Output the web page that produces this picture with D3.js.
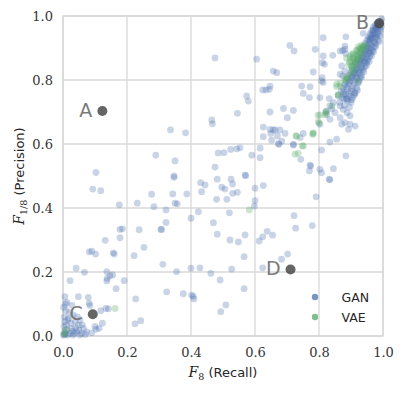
<!DOCTYPE html>
<html>
<head>
<meta charset="utf-8">
<script src="https://cdn.jsdelivr.net/npm/d3@7"></script>
<style>
  html, body { margin: 0; padding: 0; background: #fff; }
  svg { display: block; }
</style>
</head>
<body>
<svg id="chart" width="403" height="393"></svg>
<script>
// ---- data ----
const xTicks = [0.0, 0.2, 0.4, 0.6, 0.8, 1.0];
const yTicks = [0.0, 0.2, 0.4, 0.6, 0.8, 1.0];
const seriesNames = ["GAN", "VAE"];

// GAN points: [recall F8, precision F1/8]
const ganPoints = [
  [0.475,0.869],[0.605,0.865],[0.657,0.828],[0.668,0.823],[0.647,0.781],
  [0.624,0.769],[0.634,0.769],[0.645,0.771],[0.574,0.75],[0.579,0.734],
  [0.545,0.696],[0.647,0.70],[0.465,0.675],[0.467,0.663],[0.336,0.644],
  [0.383,0.635],[0.626,0.653],[0.657,0.644],[0.649,0.633],[0.626,0.623],
  [0.673,0.601],[0.485,0.572],[0.503,0.573],[0.524,0.583],[0.543,0.585],
  [0.553,0.588],[0.59,0.565],[0.616,0.587],[0.616,0.557],[0.35,0.547],
  [0.475,0.528],[0.347,0.50],[0.569,0.503],[0.29,0.565],
  [0.709,0.908],[0.722,0.891],[0.813,0.932],[0.884,0.935],[0.788,0.896],
  [0.813,0.875],[0.843,0.877],[0.866,0.891],[0.881,0.896],[0.782,0.825],
  [0.811,0.854],[0.817,0.849],[0.81,0.807],[0.808,0.797],[0.813,0.792],
  [0.871,0.844],[0.881,0.828],[0.874,0.813],[0.866,0.818],[0.746,0.781],
  [0.772,0.779],[0.751,0.758],[0.77,0.745],[0.803,0.745],[0.832,0.742],
  [0.845,0.729],[0.876,0.755],[0.886,0.74],[0.913,0.758],[0.689,0.711],
  [0.72,0.705],[0.701,0.682],[0.834,0.719],[0.84,0.71],[0.85,0.698],
  [0.866,0.719],[0.876,0.708],[0.888,0.698],[0.866,0.682],[0.897,0.688],
  [0.822,0.703],[0.824,0.693],[0.803,0.662],[0.834,0.677],[0.871,0.662],
  [0.881,0.667],[0.897,0.662],[0.913,0.656],[0.892,0.646],[0.647,0.646],
  [0.663,0.644],[0.678,0.644],[0.694,0.633],[0.67,0.625],[0.684,0.609],
  [0.652,0.612],[0.751,0.633],[0.741,0.62],[0.72,0.599],[0.834,0.606],
  [0.855,0.615],[0.808,0.581],[0.884,0.563],[0.743,0.552],[0.774,0.531],
  [0.77,0.516],[0.803,0.521],[0.808,0.51],[0.845,0.523],[0.675,0.599],
  [0.72,0.597],[0.772,0.534],[0.834,0.488],[0.832,0.49],[0.791,0.435],
  [0.722,0.376],[0.727,0.337],[0.779,0.345],[0.702,0.256],[0.683,0.24],
  [0.874,0.892],[0.881,0.906],[0.883,0.883],[0.938,0.946],[0.97,0.956],
  // dense upper-right band
  [0.99,0.985],[0.985,0.98],[0.98,0.975],[0.975,0.97],[0.99,0.975],
  [0.97,0.965],[0.985,0.965],[0.965,0.955],[0.978,0.958],[0.99,0.96],
  [0.96,0.945],[0.972,0.948],[0.985,0.95],[0.955,0.935],[0.968,0.938],
  [0.98,0.94],[0.95,0.925],[0.962,0.928],[0.975,0.93],[0.945,0.915],
  [0.958,0.918],[0.97,0.92],[0.985,0.925],[0.94,0.905],[0.952,0.908],
  [0.965,0.91],[0.978,0.912],[0.935,0.895],[0.948,0.898],[0.96,0.9],
  [0.972,0.902],[0.93,0.885],[0.943,0.888],[0.955,0.89],[0.968,0.892],
  [0.925,0.875],[0.938,0.878],[0.95,0.88],[0.962,0.882],[0.92,0.865],
  [0.933,0.868],[0.945,0.87],[0.958,0.872],[0.915,0.855],[0.928,0.858],
  [0.94,0.86],[0.952,0.862],[0.91,0.845],[0.922,0.848],[0.935,0.85],
  [0.948,0.852],[0.905,0.835],[0.918,0.838],[0.93,0.84],[0.943,0.842],
  [0.9,0.825],[0.912,0.828],[0.925,0.83],[0.938,0.832],[0.895,0.815],
  [0.908,0.818],[0.92,0.82],[0.932,0.815],[0.89,0.805],[0.903,0.808],
  [0.915,0.81],[0.928,0.805],[0.885,0.795],[0.898,0.798],[0.91,0.8],
  [0.922,0.79],[0.88,0.785],[0.893,0.788],[0.905,0.78],[0.918,0.775],
  [0.875,0.775],[0.888,0.772],[0.9,0.765],[0.912,0.76],[0.87,0.765],
  [0.883,0.755],[0.895,0.75],[0.905,0.745],[0.86,0.75],[0.878,0.74],
  [0.89,0.735],[0.9,0.73],[0.865,0.73],[0.88,0.72],[0.895,0.715],
  [0.982,0.97],[0.976,0.962],[0.968,0.95],[0.962,0.94],[0.955,0.925],
  [0.993,0.978],[0.987,0.972],[0.981,0.963],[0.992,0.955],[0.974,0.944],
  [0.986,0.943],[0.966,0.931],[0.979,0.934],[0.991,0.938],[0.957,0.913],
  [0.974,0.917],[0.988,0.92],[0.951,0.902],[0.963,0.896],[0.977,0.905],
  [0.942,0.883],[0.957,0.885],[0.971,0.888],[0.936,0.872],[0.951,0.866],
  [0.964,0.876],[0.926,0.852],[0.943,0.855],[0.957,0.858],[0.917,0.833],
  [0.934,0.836],[0.949,0.845],[0.912,0.822],[0.927,0.823],[0.94,0.826],
  [0.902,0.812],[0.919,0.806],[0.933,0.81],[0.894,0.793],[0.912,0.79],
  [0.925,0.795],[0.886,0.778],[0.903,0.772],[0.92,0.768],[0.877,0.762],
  [0.893,0.758],[0.91,0.752],[0.872,0.745],[0.887,0.742],[0.902,0.738],
  [0.996,0.99],[0.995,0.968],[0.96,0.93],[0.946,0.893],[0.93,0.862],
  // middle region
  [0.347,0.496],[0.43,0.479],[0.444,0.472],[0.433,0.451],[0.482,0.49],
  [0.496,0.465],[0.506,0.459],[0.525,0.49],[0.53,0.475],[0.512,0.427],
  [0.53,0.446],[0.545,0.449],[0.48,0.427],[0.571,0.501],[0.6,0.462],
  [0.626,0.47],[0.6,0.423],[0.598,0.406],[0.343,0.444],[0.387,0.444],
  [0.35,0.415],[0.357,0.413],[0.322,0.394],[0.4,0.368],[0.423,0.388],
  [0.47,0.354],[0.52,0.385],[0.322,0.355],[0.308,0.333],[0.306,0.333],
  [0.482,0.318],[0.522,0.3],[0.548,0.294],[0.569,0.316],[0.566,0.248],
  [0.613,0.297],[0.624,0.31],[0.638,0.327],[0.655,0.315],[0.312,0.224],
  [0.355,0.201],[0.4,0.212],[0.428,0.213],[0.462,0.196],[0.491,0.175],
  [0.527,0.209],[0.624,0.213],[0.324,0.138],[0.376,0.132],[0.402,0.128],
  [0.409,0.116],[0.407,0.124],[0.566,0.148],[0.509,0.097],[0.493,0.076],
  // lower-left region
  [0.103,0.511],[0.093,0.459],[0.118,0.454],[0.176,0.41],[0.232,0.415],
  [0.277,0.443],[0.284,0.404],[0.178,0.333],[0.186,0.335],[0.178,0.307],
  [0.238,0.332],[0.132,0.299],[0.253,0.277],[0.082,0.263],[0.09,0.265],
  [0.102,0.256],[0.157,0.26],[0.16,0.256],[0.222,0.251],[0.041,0.212],
  [0.067,0.199],[0.022,0.173],[0.137,0.201],[0.147,0.188],[0.155,0.191],
  [0.138,0.18],[0.137,0.172],[0.191,0.173],[0.166,0.148],[0.006,0.123],
  [0.048,0.123],[0.079,0.121],[0.082,0.102],[0.084,0.095],[0.118,0.079],
  [0.142,0.085],[0.227,0.116],[0.123,0.04],[0.103,0.021],[0.113,0.024],
  [0.225,0.038],[0.243,0.048],[0.134,0.086],
  [0.012,0.105],[0.028,0.096],[0.009,0.08],[0.02,0.074],[0.032,0.066],
  [0.017,0.055],[0.038,0.045],[0.053,0.05],[0.048,0.034],[0.011,0.034],
  [0.027,0.024],[0.064,0.024],[0.006,0.013],[0.022,0.008],[0.043,0.013],
  [0.058,0.008],[0.074,0.013],[0.053,0.003],[0.001,0.003],[0.032,0.003],
  [0.003,0.03],[0.004,0.06],[0.002,0.09],[0.005,0.045],[0.012,0.02],
  [0.015,0.05],[0.008,0.1],[0.025,0.04],[0.03,0.015],[0.04,0.025],
  [0.045,0.06],[0.06,0.035],[0.07,0.005],[0.09,0.01],[0.1,0.03],
  [0.015,0.003],[0.035,0.008],[0.05,0.018],[0.004,0.004],[0.008,0.007]
];

// VAE points
const vaePoints = [
  [0.725,0.568],[0.735,0.571],[0.728,0.625],[0.748,0.594],[0.78,0.63],
  [0.782,0.635],[0.80,0.665],[0.797,0.69],[0.822,0.698],[0.84,0.719],
  [0.86,0.755],[0.866,0.781],[0.855,0.787],[0.884,0.802],[0.888,0.807],
  [0.897,0.818],[0.907,0.828],[0.923,0.797],[0.902,0.844],[0.913,0.854],
  [0.918,0.865],[0.897,0.865],[0.907,0.875],[0.923,0.885],[0.928,0.896],
  [0.933,0.901],[0.938,0.906],[0.918,0.891],[0.902,0.88],
  [0.916,0.842],[0.902,0.831],[0.886,0.81],[0.881,0.80],[0.866,0.79],
  [0.855,0.779],[0.86,0.753],[0.822,0.701],[0.819,0.691],[0.803,0.691],
  [0.798,0.67],[0.782,0.633],[0.751,0.594],[0.73,0.625],
  [0.886,0.868],[0.897,0.873],[0.907,0.883],[0.918,0.894],[0.928,0.899],
  [0.933,0.909],[0.923,0.904],[0.907,0.868],[0.918,0.878],[0.928,0.883],
  [0.938,0.894],[0.902,0.857],[0.913,0.852],[0.923,0.863],[0.892,0.847],
  [0.902,0.842],[0.91,0.86],[0.895,0.855],[0.92,0.87],[0.93,0.875],
  [0.94,0.9],[0.945,0.91],
  [0.582,0.394],[0.163,0.086],[0.005,0.005],[0.01,0.02],[0.003,0.01]
];

// Highlighted models
const markerLabels = ["A", "B", "C", "D"];
const markerPoints = [[0.123,0.703],[0.988,0.977],[0.093,0.068],[0.711,0.208]];

// ---- drawing ----
const svg = d3.select("#chart");
const margin = {left: 63, top: 16, right: 20, bottom: 57};
const W = 403, H = 393;
const pw = W - margin.left - margin.right; // 320
const ph = H - margin.top - margin.bottom; // 320

const x = d3.scaleLinear().domain([0, 1]).range([margin.left, margin.left + pw]);
const y = d3.scaleLinear().domain([0, 1]).range([margin.top + ph, margin.top]);

const colors = {GAN: "#4C72B0", VAE: "#55A868"};
const gridColor = "#d9d9d9";

// grid
const g = svg.append("g");
g.selectAll("line.vx").data(xTicks).join("line")
  .attr("x1", d => x(d)).attr("x2", d => x(d))
  .attr("y1", margin.top).attr("y2", margin.top + ph)
  .attr("stroke", gridColor).attr("stroke-width", 1.3);
g.selectAll("line.hy").data(yTicks).join("line")
  .attr("y1", d => y(d)).attr("y2", d => y(d))
  .attr("x1", margin.left).attr("x2", margin.left + pw)
  .attr("stroke", gridColor).attr("stroke-width", 1.3);

// axes (tick labels only)
const xAxis = d3.axisBottom(x).tickValues(xTicks).tickFormat(d3.format(".1f")).tickSize(0).tickPadding(12);
const yAxis = d3.axisLeft(y).tickValues(yTicks).tickFormat(d3.format(".1f")).tickSize(0).tickPadding(10);
const gx = svg.append("g").attr("transform", `translate(0,${margin.top + ph})`).call(xAxis);
const gy = svg.append("g").attr("transform", `translate(${margin.left},0)`).call(yAxis);
[gx, gy].forEach(a => {
  a.select(".domain").remove();
  a.selectAll("text").attr("font-family", "'DejaVu Serif', serif").attr("font-size", 13).attr("fill", "#333");
});

// spine box
svg.append("rect").attr("x", margin.left).attr("y", margin.top).attr("width", pw).attr("height", ph)
  .attr("fill", "none").attr("stroke", gridColor).attr("stroke-width", 1.5);

// scatter
const r = 3.4;
svg.append("g").selectAll("circle").data(ganPoints).join("circle")
  .attr("cx", d => x(d[0])).attr("cy", d => y(d[1])).attr("r", r)
  .attr("fill", colors.GAN).attr("fill-opacity", 0.3);
svg.append("g").selectAll("circle").data(vaePoints).join("circle")
  .attr("cx", d => x(d[0])).attr("cy", d => y(d[1])).attr("r", r)
  .attr("fill", colors.VAE).attr("fill-opacity", 0.3);

// highlighted markers
const mk = svg.append("g");
mk.selectAll("circle").data(markerPoints).join("circle")
  .attr("cx", d => x(d[0])).attr("cy", d => y(d[1])).attr("r", 5)
  .attr("fill", "#4a4a4a").attr("fill-opacity", 0.85);
mk.selectAll("text").data(markerPoints).join("text")
  .attr("x", d => x(d[0]) - 10)
  .attr("y", d => y(d[1]) + 6)
  .attr("text-anchor", "end")
  .attr("font-family", "'DejaVu Sans', sans-serif")
  .attr("font-size", 19)
  .attr("fill", "#7a7a7a")
  .text((d, i) => markerLabels[i]);

// legend
const leg = svg.append("g");
seriesNames.forEach((name, i) => {
  const yy = 297 + i * 20;
  leg.append("circle").attr("cx", 315).attr("cy", yy).attr("r", 3.2)
    .attr("fill", colors[name]).attr("fill-opacity", 0.75);
  leg.append("text").attr("x", 341.5).attr("y", yy + 4.5)
    .attr("font-family", "'DejaVu Sans', sans-serif").attr("font-size", 12.5)
    .attr("fill", "#262626").text(name);
});

// x label
const xl = svg.append("text").attr("x", x(0.5)).attr("y", 377).attr("text-anchor", "middle")
  .attr("fill", "#262626");
xl.append("tspan").attr("font-family", "'DejaVu Serif', serif").attr("font-style", "italic").attr("font-size", 14).text("F");
xl.append("tspan").attr("font-family", "'DejaVu Serif', serif").attr("font-size", 9.5).attr("dy", 3).text("8");
xl.append("tspan").attr("font-family", "'DejaVu Sans', sans-serif").attr("font-size", 13).attr("dy", -3).text(" (Recall)");

// y label
const yl = svg.append("text")
  .attr("transform", `translate(24,${y(0.5)}) rotate(-90)`)
  .attr("text-anchor", "middle").attr("fill", "#262626");
yl.append("tspan").attr("font-family", "'DejaVu Serif', serif").attr("font-style", "italic").attr("font-size", 14).text("F");
yl.append("tspan").attr("font-family", "'DejaVu Serif', serif").attr("font-size", 9.5).attr("dy", 3).text("1/8");
yl.append("tspan").attr("font-family", "'DejaVu Sans', sans-serif").attr("font-size", 13).attr("dy", -3).text(" (Precision)");
</script>
</body>
</html>
